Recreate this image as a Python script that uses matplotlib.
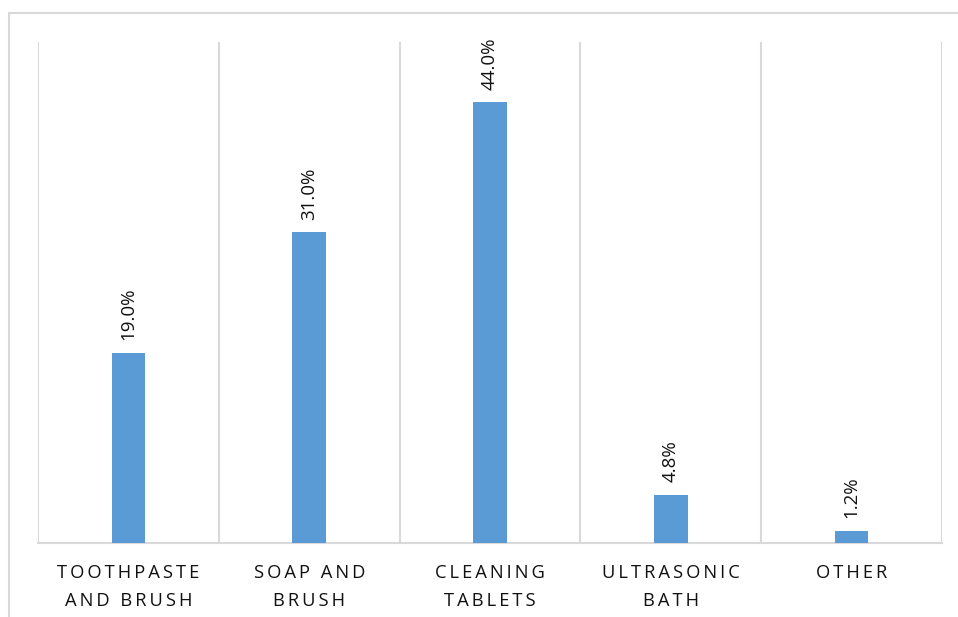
import matplotlib.pyplot as plt
from matplotlib.patches import Rectangle

categories = ["TOOTHPASTE\nAND BRUSH", "SOAP AND\nBRUSH", "CLEANING\nTABLETS", "ULTRASONIC\nBATH", "OTHER"]
values = [19.0, 31.0, 44.0, 4.8, 1.2]

bar_color = "#5b9bd5"
line_color = "#d9d9d9"
text_color = "#111111"


def spaced(label):
    # wide tracking: thin space between letters, wider gap between words
    return "\n".join("\u2009 \u2009".join("\u2009".join(w) for w in line.split(" "))
                     for line in label.split("\n"))


fig = plt.figure(figsize=(9.58, 6.17), dpi=100)
W, H = 958, 617
ax = fig.add_axes([38 / W, (H - 543) / H, (942 - 38) / W, (543 - 42) / H])

x = range(len(categories))
bars = ax.bar(x, values, width=0.185, color=bar_color, zorder=3)

for b, v in zip(bars, values):
    ax.annotate(f"{v:.1f}%", (b.get_x() + b.get_width() / 2, v),
                xytext=(0, 9), textcoords="offset points",
                rotation=90, ha="center", va="bottom",
                fontsize=13.5, color=text_color,
                family=["Open Sans", "DejaVu Sans"])

for xb in [i - 0.5 for i in range(len(categories) + 1)]:
    ax.axvline(xb, color=line_color, lw=1.5, zorder=1)

ax.set_xlim(-0.5, len(categories) - 0.5)
ax.set_ylim(0, 50)
ax.set_xticks(list(x))
ax.set_xticklabels([spaced(c) for c in categories], fontsize=13.2,
                   color=text_color, family=["Open Sans", "DejaVu Sans"],
                   linespacing=1.75)
ax.tick_params(axis="x", length=0, pad=15)
ax.set_yticks([])
for s in ["left", "right", "top"]:
    ax.spines[s].set_visible(False)
ax.spines["bottom"].set_color(line_color)
ax.spines["bottom"].set_linewidth(1.5)

# outer chart frame, running off the right and bottom edges
fig.patches.append(Rectangle((9 / W, -0.1), 1.2, 1.1 - 13 / H,
                             transform=fig.transFigure, fill=False,
                             edgecolor=line_color, lw=1.5, clip_on=False))

fig.savefig("out.png", dpi=100)
